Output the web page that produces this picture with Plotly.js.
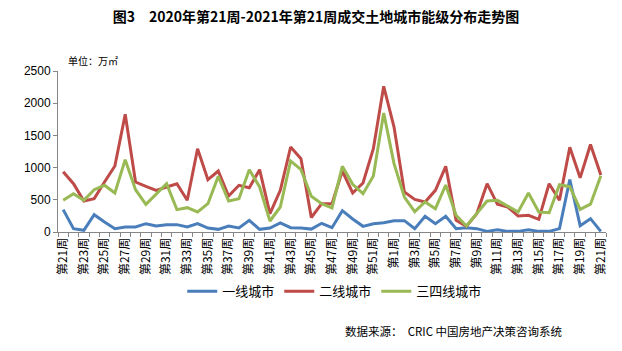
<!DOCTYPE html>
<html>
<head>
<meta charset="utf-8">
<script src="https://cdn.plot.ly/plotly-3.0.1.min.js"></script>
<style>html,body{margin:0;padding:0;background:#fff;}#chart{width:622px;height:351px;}</style>
</head>
<body>
<div id="chart"></div>
<script>
// Weeks: 2020 week 21-52, 2021 week 1-21
const weeks2020 = [21,22,23,24,25,26,27,28,29,30,31,32,33,34,35,36,37,38,39,40,41,42,43,44,45,46,47,48,49,50,51,52];
const weeks2021 = [1,2,3,4,5,6,7,8,9,10,11,12,13,14,15,16,17,18,19,20,21];
const categories = weeks2020.map(w => "2020-第" + w + "周").concat(weeks2021.map(w => "2021-第" + w + "周"));
const weekLabels = weeks2020.concat(weeks2021).map(w => "第" + w + "周");

const tier1 = [347,52,26,269,155,52,78,78,129,93,114,114,78,129,62,41,93,62,181,41,62,140,67,62,45,135,67,331,202,88,129,145,176,176,52,243,129,243,52,67,52,10,36,10,10,36,10,10,52,815,98,207,10];
const tier2 = [937,750,481,518,776,1025,1827,776,709,647,699,750,492,1294,813,947,559,725,688,968,285,647,1320,1139,225,440,440,947,606,761,1294,2262,1630,621,507,466,647,1020,181,88,285,750,430,388,248,259,197,750,492,1315,841,1358,885];
const tier34 = [492,595,492,657,725,606,1123,657,430,595,750,347,378,311,440,864,481,518,968,699,171,388,1103,968,556,440,373,1020,740,595,870,1848,1061,543,316,466,362,730,259,93,285,481,492,404,311,606,311,300,735,704,350,432,872];

const seriesNames = ["一线城市","二线城市","三四线城市"];
const seriesColors = ["#4A7EBB","#BE4B48","#98B954"];
const tickText = weekLabels.map((t,i) => i % 2 === 0 ? t : "");

const traces = [tier1, tier2, tier34].map((vals, k) => ({
  type: "scatter", mode: "lines", x: categories, y: vals, name: seriesNames[k],
  line: {color: seriesColors[k], width: 3}
}));

const layout = {
  width: 622, height: 351,
  margin: {l: 58, r: 16, t: 70.7, b: 119.3},
  paper_bgcolor: "#fff", plot_bgcolor: "#fff",
  showlegend: true,
  title: {
    text: "图3　2020年第21周-2021年第21周成交土地城市能级分布走势图",
    font: {family: "Noto Sans CJK SC", size: 14, color: "#000", weight: "bold"},
    x: 0.508, xanchor: "center", y: 1 - 17/351, yanchor: "middle", yref: "container"
  },
  xaxis: {
    type: "category", categoryorder: "array", categoryarray: categories,
    tickmode: "array", tickvals: categories, ticktext: tickText,
    tickson: "boundaries", ticks: "outside", ticklen: 4, tickcolor: "#868686",
    tickangle: -90, tickfont: {family: "Noto Sans CJK SC", size: 12, color: "#000"},
    showline: true, linecolor: "#868686", linewidth: 1, showgrid: false, zeroline: false,
    range: [-0.5, categories.length - 0.5]
  },
  yaxis: {
    range: [0, 2500], tickmode: "linear", tick0: 0, dtick: 500,
    ticks: "outside", ticklen: 4, tickcolor: "#868686",
    tickfont: {family: "Liberation Sans", size: 12, color: "#000"},
    showline: true, linecolor: "#868686", linewidth: 1, showgrid: false, zeroline: false
  },
  legend: {
    orientation: "h", x: 0.505, xanchor: "center", y: -0.368, yanchor: "middle",
    font: {family: "Noto Sans CJK SC", size: 13, color: "#000"},
    itemwidth: 30, bgcolor: "rgba(0,0,0,0)", traceorder: "normal"
  },
  annotations: [
    {text: "单位：万㎡", xref: "paper", yref: "paper", x: (66-58)/548, y: (231.7-60)/161,
     xanchor: "left", yanchor: "middle", showarrow: false,
     font: {family: "Noto Sans CJK SC", size: 10, color: "#000"}},
    {text: "数据来源：  CRIC 中国房地产决策咨询系统", xref: "paper", yref: "paper",
     x: (343-58)/548, y: (231.7-331)/161, xanchor: "left", yanchor: "middle", showarrow: false,
     font: {family: "Noto Sans CJK SC", size: 11.5, color: "#000"}}
  ]
};

Plotly.newPlot("chart", traces, layout, {displayModeBar: false, staticPlot: true});
</script>
</body>
</html>
